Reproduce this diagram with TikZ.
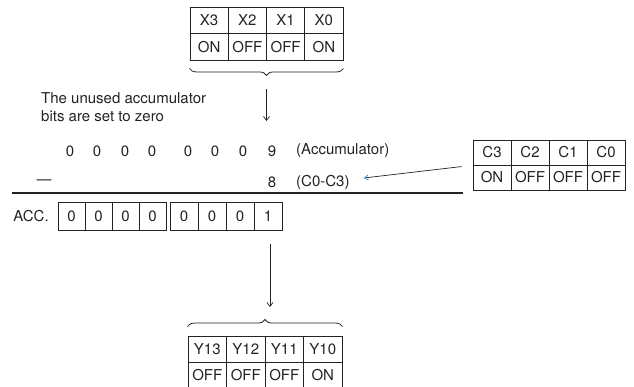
\documentclass[tikz,border=0pt]{standalone}
\usepackage{fontspec}
\setmainfont{TeX Gyre Heros}
\usetikzlibrary{arrows.meta,decorations.pathreplacing}
\definecolor{inkgray}{RGB}{35,35,35}
\definecolor{tipblue}{RGB}{40,150,230}

\begin{document}
\begin{tikzpicture}[
  x=1pt, y=-1pt,
  every node/.style={font=\fontsize{15}{18}\selectfont, text=inkgray, inner sep=0pt},
  xcell/.style={draw=inkgray, line width=0.9pt,
                minimum width=38.25pt, minimum height=26.5pt},
  ccell/.style={draw=inkgray, line width=0.9pt,
                minimum width=38pt, minimum height=25pt},
  ycell/.style={draw=inkgray, line width=0.9pt,
                minimum width=38.5pt, minimum height=26pt},
  bit/.style={draw=inkgray, line width=0.9pt, minimum height=28pt},
  flow/.style={-{Straight Barb[length=4pt,width=6pt]}, line width=0.7pt, inkgray},
  curly/.style={decorate, decoration={brace, amplitude=7pt},
                line width=0.8pt, inkgray},
]
\useasboundingbox (0,0) rectangle (634,386);

%% ── Input X0-X3 ────────────────────────────────────────────────────────
\foreach \n/\t/\v [count=\i from 0] in {x3/X3/ON, x2/X2/OFF, x1/X1/OFF, x0/X0/ON} {
  \node[xcell] (\n) at ({209.1+38.25*\i}, 20.25) {\t};
  \node[xcell] (\n-v) at ({209.1+38.25*\i}, 46.75) {\v};
}
\draw[curly] ([yshift=-8pt]x0-v.south east) -- ([yshift=-8pt]x3-v.south west);

\coordinate (xa) at (266.5, 89);
\coordinate (xb) at (266.5, 121);
\draw[flow] (xa) -- (xb);

\node[anchor=west, align=left] (note) at (41, 107)
  {The unused accumulator\\bits are set to zero};

%% ── Accumulator and constant ───────────────────────────────────────────
\foreach \n/\x/\d in {a7/70/0, a6/97/0, a5/125/0, a4/152/0,
                      a3/188/0, a2/215/0, a1/243/0, a0/272/9} {
  \node (\n) at (\x, 151) {\d};
}
\node[anchor=west] (accdesc) at (296, 151) {(Accumulator)};

\node (dash) at (44, 182) {\textemdash};
\node (cval) at (272, 182) {8};
\node[anchor=west] (cdesc) at (296, 182) {(C0-C3)};

\coordinate (rl) at (12, 193);
\coordinate (rr) at (463, 193);
\draw[line width=1.3pt, inkgray] (rl) -- (rr);

%% ── Constant C0-C3 ─────────────────────────────────────────────────────
\foreach \n/\t/\v [count=\i from 0] in {c3/C3/ON, c2/C2/OFF, c1/C1/OFF, c0/C0/OFF} {
  \node[ccell] (\n) at ({492+38*\i}, 152.5) {\t};
  \node[ccell] (\n-v) at ({492+38*\i}, 177.5) {\v};
}
\draw[line width=0.7pt, inkgray,
      -{Straight Barb[length=4pt,width=5pt,color=tipblue]}]
  ([xshift=-11pt,yshift=-2pt]c3-v.north west) -- ([xshift=14pt,yshift=4pt]cdesc.east);

%% ── Result in accumulator ──────────────────────────────────────────────
\node (acc) at (31, 216) {ACC.};
\foreach \n/\x/\w/\d in {b7/71.5/27/0, b6/98.5/27/0, b5/125.5/27/0, b4/152.5/27/0,
                         b3/184/28/0, b2/212/28/0, b1/240/28/0, b0/268/28/1} {
  \node[bit, minimum width=\w pt] (\n) at (\x, 216) {\d};
}

\coordinate (ya) at (270, 244);
\coordinate (yb) at (270, 307);
\draw[flow] (ya) -- (yb);

%% ── Output Y10-Y13 ─────────────────────────────────────────────────────
\foreach \n/\t/\v [count=\i from 0] in {y13/Y13/OFF, y12/Y12/OFF, y11/Y11/OFF, y10/Y10/ON} {
  \node[ycell] (\n) at ({207.25+38.5*\i}, 349) {\t};
  \node[ycell] (\n-v) at ({207.25+38.5*\i}, 375) {\v};
}
\draw[curly] ([yshift=9pt]y13.north west) -- ([yshift=9pt]y10.north east);

\end{tikzpicture}
\end{document}
